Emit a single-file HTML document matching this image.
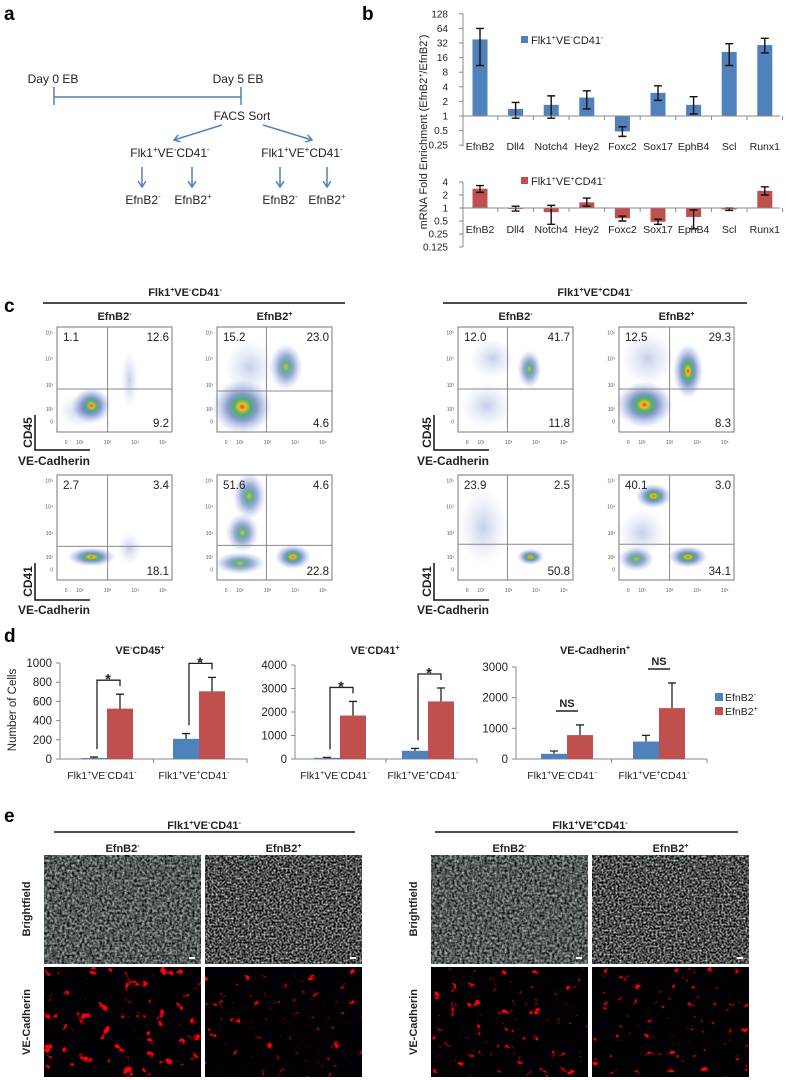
<!DOCTYPE html>
<html><head><meta charset="utf-8"><style>
html,body{margin:0;padding:0;background:#fff;}
svg{display:block;font-family:"Liberation Sans",Arial,sans-serif;}
</style></head><body>
<svg id="fig" width="787" height="1080" viewBox="0 0 787 1080" xmlns="http://www.w3.org/2000/svg">
<defs>
<radialGradient id="gHigh"><stop offset="0" stop-color="#e8401c"/><stop offset="0.12" stop-color="#f0c020"/><stop offset="0.28" stop-color="#3aa860" stop-opacity="0.9"/><stop offset="0.5" stop-color="#2b4fa8" stop-opacity="0.55"/><stop offset="1" stop-color="#6a88d8" stop-opacity="0"/></radialGradient>
<radialGradient id="gMed"><stop offset="0" stop-color="#c8c030" stop-opacity="0.9"/><stop offset="0.2" stop-color="#3a9a70" stop-opacity="0.8"/><stop offset="0.5" stop-color="#2b4fa8" stop-opacity="0.45"/><stop offset="1" stop-color="#6a88d8" stop-opacity="0"/></radialGradient>
<radialGradient id="gLow"><stop offset="0" stop-color="#4060b8" stop-opacity="0.3"/><stop offset="1" stop-color="#8aa0e0" stop-opacity="0"/></radialGradient>
<filter id="bf1" x="0" y="0" width="1" height="1" color-interpolation-filters="sRGB"><feTurbulence type="fractalNoise" baseFrequency="0.4" numOctaves="2" seed="3"/><feColorMatrix values="1.1 0 0 0 -0.22 1.1 0 0 0 -0.2 1.1 0 0 0 -0.2 0 0 0 0 1"/></filter>
<filter id="bf2" x="0" y="0" width="1" height="1" color-interpolation-filters="sRGB"><feTurbulence type="fractalNoise" baseFrequency="0.5" numOctaves="2" seed="8"/><feColorMatrix values="1.6 0 0 0 -0.5 1.6 0 0 0 -0.49 1.6 0 0 0 -0.49 0 0 0 0 1"/></filter>
<filter id="rf1" x="0" y="0" width="1" height="1" color-interpolation-filters="sRGB"><feTurbulence type="fractalNoise" baseFrequency="0.09" numOctaves="3" seed="5"/><feColorMatrix values="12 0 0 0 -8 0 0 0 0 0 0 0 0 0 0.02 0 0 0 0 1"/></filter>
<filter id="rf2" x="0" y="0" width="1" height="1" color-interpolation-filters="sRGB"><feTurbulence type="fractalNoise" baseFrequency="0.12" numOctaves="3" seed="11"/><feColorMatrix values="9 0 0 0 -6.2 0 0 0 0 0 0 0 0 0 0.02 0 0 0 0 1"/></filter>
<marker id="arr" markerWidth="8" markerHeight="8" refX="6" refY="4" orient="auto" markerUnits="userSpaceOnUse"><path d="M0,0 L6,4 L0,8" fill="none" stroke="#4F81BD" stroke-width="1.5"/></marker>
</defs>

<text x="4" y="20" font-size="19" font-weight="bold">a</text>
<text x="362" y="20" font-size="19" font-weight="bold">b</text>
<text x="4" y="312" font-size="19" font-weight="bold">c</text>
<text x="4" y="642" font-size="19" font-weight="bold">d</text>
<text x="4" y="822" font-size="19" font-weight="bold">e</text>

<g font-size="12" fill="#222">
<text x="53" y="83" text-anchor="middle">Day 0 EB</text>
<text x="238" y="83" text-anchor="middle">Day 5 EB</text>
<line x1="54" y1="97" x2="241" y2="97" stroke="#4F81BD" stroke-width="1.5"/>
<line x1="54" y1="87" x2="54" y2="105" stroke="#4F81BD" stroke-width="1.5"/>
<line x1="241" y1="87" x2="241" y2="105" stroke="#4F81BD" stroke-width="1.5"/>
<text x="242" y="120" text-anchor="middle">FACS Sort</text>
<line x1="222" y1="125" x2="174" y2="140" stroke="#4F81BD" stroke-width="1.5" marker-end="url(#arr)"/>
<line x1="263" y1="125" x2="312" y2="140" stroke="#4F81BD" stroke-width="1.5" marker-end="url(#arr)"/>
<text x="170" y="157" text-anchor="middle">Flk1<tspan font-size="8" dy="-5">+</tspan><tspan dy="5">VE</tspan><tspan font-size="8" dy="-5">-</tspan><tspan dy="5">CD41</tspan><tspan font-size="8" dy="-5">-</tspan></text>
<text x="302" y="157" text-anchor="middle">Flk1<tspan font-size="8" dy="-5">+</tspan><tspan dy="5">VE</tspan><tspan font-size="8" dy="-5">+</tspan><tspan dy="5">CD41</tspan><tspan font-size="8" dy="-5">-</tspan></text>
<line x1="142" y1="167" x2="142" y2="187" stroke="#4F81BD" stroke-width="1.5" marker-end="url(#arr)"/>
<line x1="192" y1="167" x2="192" y2="187" stroke="#4F81BD" stroke-width="1.5" marker-end="url(#arr)"/>
<line x1="280" y1="167" x2="280" y2="187" stroke="#4F81BD" stroke-width="1.5" marker-end="url(#arr)"/>
<line x1="327" y1="167" x2="327" y2="187" stroke="#4F81BD" stroke-width="1.5" marker-end="url(#arr)"/>
<text x="143" y="204" text-anchor="middle">EfnB2<tspan font-size="8" dy="-5">-</tspan></text>
<text x="193" y="204" text-anchor="middle">EfnB2<tspan font-size="8" dy="-5">+</tspan></text>
<text x="280" y="204" text-anchor="middle">EfnB2<tspan font-size="8" dy="-5">-</tspan></text>
<text x="327" y="204" text-anchor="middle">EfnB2<tspan font-size="8" dy="-5">+</tspan></text>
</g>

<g id="panelB" font-size="10" fill="#222"></g>
<g id="panelC" fill="#222"></g>
<g id="panelD" fill="#222"></g>
<g id="panelE" fill="#222"></g>
</svg>

<script>
// ---------- Panel b data ----------
const genes = ['EfnB2','Dll4','Notch4','Hey2','Foxc2','Sox17','EphB4','Scl','Runx1'];
const upperVals = [38,1.4,1.7,2.4,0.48,3,1.7,21,29];
const upperLo = [11,0.9,0.9,1.4,0.38,2.1,1.1,11,20];
const upperHi = [64,1.9,2.6,3.3,0.6,4.2,2.5,31,40];
const lowerVals = [2.8,0.95,0.8,1.35,0.58,0.48,0.62,0.93,2.5];
const lowerLo = [2.3,0.85,0.42,1.1,0.5,0.42,0.33,0.88,2.0];
const lowerHi = [3.3,1.1,1.15,1.7,0.65,0.55,0.9,1.0,3.1];
const upperTicks = ['128','64','32','16','8','4','2','1','0.5','0.25'];
const lowerTicks = ['4','2','1','0.5','0.25','0.125'];

// ---------- Panel d data ----------
const dCategories = ['VE-CD41-','VE+CD41-'];
const ve45Blue = [10,210], ve45BlueErr = [20,265], ve45Red = [525,705], ve45RedErr = [675,850];
const ve41Blue = [50,350], ve41BlueErr = [70,450], ve41Red = [1850,2450], ve41RedErr = [2450,3020];
const vecBlue = [170,570], vecBlueErr = [260,770], vecRed = [780,1660], vecRedErr = [1110,2480];
const ve45Ticks = [0,200,400,600,800,1000];
const ve41Ticks = [0,1000,2000,3000,4000];
const vecTicks = [0,1000,2000,3000];

const NS = 'http://www.w3.org/2000/svg';
const BLUE = '#4F81BD', RED = '#C0504D';
function mk(tag, attrs, parent){ const e=document.createElementNS(NS,tag); for(const k in attrs) e.setAttribute(k,attrs[k]); parent.appendChild(e); return e; }
function popLabel(parent,x,y,ve,size,anchor){
  const t=mk('text',{x:x,y:y,'text-anchor':anchor||'middle','font-size':size},parent);
  const s=Math.round(size*0.65);
  t.innerHTML='Flk1<tspan font-size="'+s+'" dy="-4">+</tspan><tspan dy="4">VE</tspan><tspan font-size="'+s+'" dy="-4">'+ve+'</tspan><tspan dy="4">CD41</tspan><tspan font-size="'+s+'" dy="-4">-</tspan>';
  return t;
}

(function(){
  const g=document.getElementById('panelB');
  const ax=463, x0=480, step=35.6, bw=15, xEnd=780;
  function drawLog(vals,lo,hi,ticks,y1,ppd,color,prefix,labY,yTop,yBot){
    const y=v=>y1-Math.log2(v)*ppd;
    const axis=mk('line',{x1:ax,y1:yTop,x2:ax,y2:yBot,stroke:'#888','stroke-width':1},g);
    
    
    ticks.forEach(t=>{
      const yy=y(parseFloat(t));
      mk('line',{x1:ax-4,y1:yy,x2:ax,y2:yy,stroke:'#888'},g);
      const tl=mk('text',{x:ax-15,y:yy+3.5,'text-anchor':'end','font-size':10},g);
      tl.textContent=t;
      
      
    });
    genes.forEach((gn,i)=>{
      const cx=x0+i*step, yv=y(vals[i]), yb=y(1);
      const bar=mk('rect',{x:cx-bw/2,y:Math.min(yv,yb),width:bw,height:Math.abs(yb-yv),fill:color},g);
      
      
      const e=mk('path',{d:'M'+(cx-4)+','+y(hi[i])+'h8M'+cx+','+y(hi[i])+'V'+y(lo[i])+'M'+(cx-4)+','+y(lo[i])+'h8',stroke:'#111','stroke-width':1.4,fill:'none'},g);
      
      
      const lb=mk('text',{x:cx,y:labY,'text-anchor':'middle','font-size':10.5},g);
      lb.textContent=gn;
      
      
      mk('line',{x1:cx+step/2,y1:y(1),x2:cx+step/2,y2:y(1)+4,stroke:'#888'},g);
    });
    const base=mk('line',{x1:ax,y1:y(1),x2:xEnd,y2:y(1),stroke:'#888','stroke-width':1},g);
    
    
  }
  drawLog(upperVals,upperLo,upperHi,upperTicks,116,14.6,BLUE,'upper',150,14,146);
  drawLog(lowerVals,lowerLo,lowerHi,lowerTicks,208,13,RED,'lower',233,182,247);
  const l1=mk('rect',{x:521,y:36,width:7,height:7,fill:BLUE},g);
  
  
  popLabel(g,531,44,'-',11,'start');
  const l2=mk('rect',{x:521,y:177,width:7,height:7,fill:RED},g);
  
  
  popLabel(g,531,185,'+',11,'start');
  const yt=mk('text',{x:0,y:0,'text-anchor':'middle','font-size':11,transform:'translate(427,132) rotate(-90)'},g);
  yt.innerHTML='mRNA Fold Enrichment (EfnB2<tspan font-size="7" dy="-4">+</tspan><tspan dy="4">/EfnB2</tspan><tspan font-size="7" dy="-4">-</tspan><tspan dy="4">)</tspan>';
  
  
})();

// ---------- Panel c ----------
const plotXs=[57,217,458,619];
const rowYs=[327,475];
const quadNums=[
 [['1.1','12.6','9.2'],['15.2','23.0','4.6'],['12.0','41.7','11.8'],['12.5','29.3','8.3']],
 [['2.7','3.4','18.1'],['51.6','4.6','22.8'],['23.9','2.5','50.8'],['40.1','3.0','34.1']]
];
const gates=[[[0.44,0.59],[0.43,0.61],[0.43,0.59],[0.44,0.59]],[[0.44,0.68],[0.43,0.67],[0.43,0.66],[0.44,0.66]]];
const clusters=[
 [[[0.3,0.75,0.13,0.13,'gHigh'],[0.63,0.5,0.06,0.22,'gLow'],[0.2,0.8,0.15,0.12,'gLow']],
  [[0.22,0.76,0.2,0.2,'gHigh'],[0.6,0.38,0.11,0.17,'gMed'],[0.28,0.38,0.17,0.2,'gLow']],
  [[0.62,0.4,0.08,0.14,'gMed'],[0.25,0.75,0.17,0.17,'gLow'],[0.3,0.3,0.15,0.15,'gLow']],
  [[0.22,0.74,0.19,0.17,'gHigh'],[0.6,0.42,0.1,0.2,'gHigh'],[0.25,0.3,0.18,0.2,'gLow']]],
 [[[0.3,0.78,0.16,0.07,'gHigh'],[0.63,0.7,0.08,0.12,'gLow']],
  [[0.28,0.2,0.11,0.17,'gMed'],[0.22,0.55,0.11,0.14,'gMed'],[0.66,0.78,0.12,0.09,'gHigh'],[0.2,0.84,0.17,0.08,'gMed']],
  [[0.63,0.78,0.09,0.06,'gHigh'],[0.22,0.5,0.16,0.28,'gLow']],
  [[0.3,0.2,0.12,0.09,'gHigh'],[0.2,0.55,0.16,0.17,'gLow'],[0.6,0.78,0.13,0.08,'gHigh'],[0.15,0.8,0.12,0.09,'gMed']]]
];
(function(){
  const g=document.getElementById('panelC');
  const W=115,H=105;
  const h1=mk('text',{x:185,y:296,'text-anchor':'middle','font-size':11,'font-weight':'bold'},g);
  h1.innerHTML='Flk1<tspan font-size="7" dy="-4">+</tspan><tspan dy="4">VE</tspan><tspan font-size="7" dy="-4">-</tspan><tspan dy="4">CD41</tspan><tspan font-size="7" dy="-4">-</tspan>';
  
  
  mk('line',{x1:43,y1:303,x2:345,y2:303,stroke:'#111','stroke-width':1.5},g);
  const h2=mk('text',{x:595,y:296,'text-anchor':'middle','font-size':11,'font-weight':'bold'},g);
  h2.innerHTML='Flk1<tspan font-size="7" dy="-4">+</tspan><tspan dy="4">VE</tspan><tspan font-size="7" dy="-4">+</tspan><tspan dy="4">CD41</tspan><tspan font-size="7" dy="-4">-</tspan>';
  
  
  mk('line',{x1:443,y1:303,x2:747,y2:303,stroke:'#111','stroke-width':1.5},g);
  plotXs.forEach((px,pi)=>{
    const sub=mk('text',{x:px+W/2,y:320,'text-anchor':'middle','font-size':11,'font-weight':'bold'},g);
    sub.innerHTML='EfnB2<tspan font-size="7" dy="-4">'+(pi%2?'+':'-')+'</tspan>';
    
    
    rowYs.forEach((py,ri)=>{
      const pg=mk('g',{},g);
      
      
      clusters[ri][pi].forEach(c=>{
        mk('ellipse',{cx:px+c[0]*W,cy:py+c[1]*H,rx:c[2]*W*1.3,ry:c[3]*H*1.3,fill:'url(#'+c[4]+')'},pg);
      });
      mk('rect',{x:px,y:py,width:W,height:H,fill:'none',stroke:'#777','stroke-width':1},pg);
      const gt=gates[ri][pi];
      mk('line',{x1:px+gt[0]*W,y1:py,x2:px+gt[0]*W,y2:py+H,stroke:'#888'},pg);
      mk('line',{x1:px,y1:py+gt[1]*H,x2:px+W,y2:py+gt[1]*H,stroke:'#888'},pg);
      const q=quadNums[ri][pi];
      const t1=mk('text',{x:px+6,y:py+14,'font-size':11.5},pg); t1.textContent=q[0];
      
      
      const t2=mk('text',{x:px+W-3,y:py+14,'font-size':11.5,'text-anchor':'end'},pg); t2.textContent=q[1];
      
      
      const t3=mk('text',{x:px+W-3,y:py+H-5,'font-size':11.5,'text-anchor':'end'},pg); t3.textContent=q[2];
      
      
      ['10\u2075','10\u2074','10\u00b3','10\u00b2','0'].forEach((s,k)=>{
        const yy=py+[0.05,0.3,0.55,0.78,0.9][k]*H;
        const tt=mk('text',{x:px-4,y:yy+2,'font-size':5,'text-anchor':'end',fill:'#555'},pg); tt.textContent=s;
      });
      ['0','10\u00b2','10\u00b3','10\u2074','10\u2075'].forEach((s,k)=>{
        const xx=px+[0.08,0.2,0.44,0.68,0.92][k]*W;
        const tt=mk('text',{x:xx,y:py+H+12,'font-size':5,'text-anchor':'middle',fill:'#555'},pg); tt.textContent=s;
      });
    });
  });
  [[35,'CD45',415,450,461,'VE-Cadherin'],[35,'CD41',563,600,610,'VE-Cadherin'],[434,'CD45',415,450,461,'VE-Cadherin'],[434,'CD41',563,600,610,'VE-Cadherin']].forEach(a=>{
    mk('path',{d:'M'+a[0]+','+a[2]+'V'+a[3]+'H'+(a[0]+55),fill:'none',stroke:'#111','stroke-width':1.5},g);
    const yl=mk('text',{x:0,y:0,'font-size':12,'font-weight':'bold','text-anchor':'middle',transform:'translate('+(a[0]-3)+','+((a[2]+a[3])/2)+') rotate(-90)'},g);
    yl.textContent=a[1];
    
    
    const xl=mk('text',{x:a[0]-17,y:a[4]+4,'font-size':12,'font-weight':'bold'},g);
    xl.textContent=a[5];
    
    
  });
})();

(function(){
  const g=document.getElementById('panelD');
  const y0=759;
  function chart(name,title,titleX,x0,x1,yTop,ticks,gc,blue,blueErr,red,redErr,sig){
    const max=ticks[ticks.length-1];
    const y=v=>y0-v/max*(y0-yTop);
    const tt=mk('text',{x:titleX,y:654,'text-anchor':'middle','font-size':11,'font-weight':'bold'},g);
    tt.innerHTML=title;
    
    
    const ax=mk('line',{x1:x0,y1:yTop,x2:x0,y2:y0,stroke:'#888'},g);
    
    
    ticks.forEach(t=>{
      mk('line',{x1:x0-4,y1:y(t),x2:x0,y2:y(t),stroke:'#888'},g);
      const l=mk('text',{x:x0-8,y:y(t)+4,'text-anchor':'end','font-size':11.5},g); l.textContent=t;
      
      
    });
    const base=mk('line',{x1:x0,y1:y0,x2:x1,y2:y0,stroke:'#888'},g);
    
    
    mk('line',{x1:(x0+x1)/2,y1:y0,x2:(x0+x1)/2,y2:y0+4,stroke:'#888'},g);
    mk('line',{x1:x1,y1:y0,x2:x1,y2:y0+4,stroke:'#888'},g);
    gc.forEach((c,i)=>{
      const bx=c-13, rx=c+13;
      const b=mk('rect',{x:bx-13,y:y(blue[i]),width:26,height:y0-y(blue[i]),fill:BLUE},g);
      
      
      mk('path',{d:'M'+bx+','+y(blue[i])+'V'+y(blueErr[i])+'M'+(bx-4)+','+y(blueErr[i])+'h8',stroke:'#222','stroke-width':1.3,fill:'none'},g);
      const r=mk('rect',{x:rx-13,y:y(red[i]),width:26,height:y0-y(red[i]),fill:RED},g);
      
      
      mk('path',{d:'M'+rx+','+y(red[i])+'V'+y(redErr[i])+'M'+(rx-4)+','+y(redErr[i])+'h8',stroke:'#222','stroke-width':1.3,fill:'none'},g);
      popLabel(g,c-5,779,i===0?'-':'+',10.5);
      if(sig==='*'){
        const top=y(redErr[i])-14, bot=y(blueErr[i])-8;
        const br=mk('path',{d:'M'+(bx+3)+','+bot+'V'+top+'H'+rx+'v6',stroke:'#222','stroke-width':1.3,fill:'none'},g);
        
        
        const s=mk('text',{x:(bx+rx)/2+1,y:top+4,'text-anchor':'middle','font-size':15,'font-weight':'bold'},g); s.textContent='*';
      } else {
        const ly=y(redErr[i])-14;
        mk('line',{x1:bx+2,y1:ly,x2:rx-2,y2:ly,stroke:'#222','stroke-width':1.5},g);
        const s=mk('text',{x:c,y:ly-4,'text-anchor':'middle','font-size':11,'font-weight':'bold'},g); s.textContent='NS';
        
        
      }
    });
  }
  chart('ve-cd45','VE<tspan font-size="7" dy="-4">-</tspan><tspan dy="4">CD45</tspan><tspan font-size="7" dy="-4">+</tspan>',140,60,247,663,ve45Ticks,[107,199],ve45Blue,ve45BlueErr,ve45Red,ve45RedErr,'*');
  chart('ve-cd41','VE<tspan font-size="7" dy="-4">-</tspan><tspan dy="4">CD41</tspan><tspan font-size="7" dy="-4">+</tspan>',375,295,477,665,ve41Ticks,[340,428],ve41Blue,ve41BlueErr,ve41Red,ve41RedErr,'*');
  chart('ve-cadherin','VE-Cadherin<tspan font-size="7" dy="-4">+</tspan>',595,516,707,667,vecTicks,[567,659],vecBlue,vecBlueErr,vecRed,vecRedErr,'NS');
  const yt=mk('text',{x:0,y:0,'text-anchor':'middle','font-size':11.5,transform:'translate(16,710) rotate(-90)'},g);
  yt.textContent='Number of Cells';
  
  
  const s1=mk('rect',{x:715,y:693,width:8,height:8,fill:BLUE},g);
  
  
  const t1=mk('text',{x:725,y:701,'font-size':10.5},g); t1.innerHTML='EfnB2<tspan font-size="7" dy="-4">-</tspan>';
  const s2=mk('rect',{x:715,y:707,width:8,height:8,fill:RED},g);
  
  
  const t2=mk('text',{x:725,y:715,'font-size':10.5},g); t2.innerHTML='EfnB2<tspan font-size="7" dy="-4">+</tspan>';
})();

(function(){
  const g=document.getElementById('panelE');
  const imgX=[44,205,431,592], imgW=157;
  const h1=mk('text',{x:204,y:829,'text-anchor':'middle','font-size':11,'font-weight':'bold'},g);
  h1.innerHTML='Flk1<tspan font-size="7" dy="-4">+</tspan><tspan dy="4">VE</tspan><tspan font-size="7" dy="-4">-</tspan><tspan dy="4">CD41</tspan><tspan font-size="7" dy="-4">-</tspan>';
  mk('line',{x1:54,y1:832,x2:355,y2:832,stroke:'#111','stroke-width':1.5},g);
  const h2=mk('text',{x:590,y:829,'text-anchor':'middle','font-size':11,'font-weight':'bold'},g);
  h2.innerHTML='Flk1<tspan font-size="7" dy="-4">+</tspan><tspan dy="4">VE</tspan><tspan font-size="7" dy="-4">+</tspan><tspan dy="4">CD41</tspan><tspan font-size="7" dy="-4">-</tspan>';
  mk('line',{x1:435,y1:832,x2:738,y2:832,stroke:'#111','stroke-width':1.5},g);
  imgX.forEach((x,i)=>{
    const l=mk('text',{x:x+imgW/2,y:852,'text-anchor':'middle','font-size':11,'font-weight':'bold'},g);
    l.innerHTML='EfnB2<tspan font-size="7" dy="-4">'+(i%2?'+':'-')+'</tspan>';
    const b=mk('rect',{x:x,y:855,width:imgW,height:109,fill:'#555',filter:'url(#'+(i%2?'bf2':'bf1')+')'},g);
    
    
    mk('rect',{x:x+imgW-12,y:957,width:6,height:2,fill:'#fff'},g);
    const r=mk('rect',{x:x,y:967,width:imgW,height:110,fill:'#100',filter:'url(#'+(i===0?'rf1':'rf2')+')'},g);
    
    
  });
  [[30,909,'Brightfield'],[30,1022,'VE-Cadherin'],[417,909,'Brightfield'],[417,1022,'VE-Cadherin']].forEach(a=>{
    const t=mk('text',{x:0,y:0,'text-anchor':'middle','font-size':11,'font-weight':'bold',transform:'translate('+a[0]+','+a[1]+') rotate(-90)'},g);
    t.textContent=a[2];
    
    
  });
})();
</script>
</body></html>
